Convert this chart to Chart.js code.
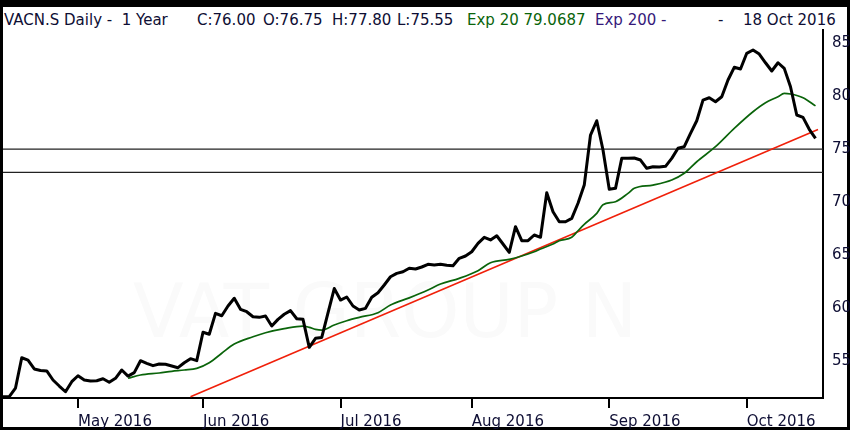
<!DOCTYPE html>
<html>
<head>
<meta charset="utf-8">
<script src="https://cdn.jsdelivr.net/npm/chart.js@4.4.1/dist/chart.umd.min.js"></script>
<style>
  html, body { margin: 0; padding: 0; background: #000; width: 850px; height: 430px; overflow: hidden; }
  #frame { position: absolute; left: 3px; top: 7px; width: 844px; height: 420px; background: #fff; }
  #chart { position: absolute; left: 0; top: 0; }
  .hd { position: absolute; top: 11px; font: 15px "DejaVu Sans", sans-serif; color: #0e0e34; white-space: pre; }
</style>
</head>
<body>
<div id="frame"></div>
<span class="hd" style="left:4px">VACN.S Daily -  1 Year</span>
<span class="hd" style="left:197px">C:76.00</span>
<span class="hd" style="left:263px">O:76.75</span>
<span class="hd" style="left:332px">H:77.80</span>
<span class="hd" style="left:397px">L:75.55</span>
<span class="hd" style="left:467px;color:#0a640a">Exp 20 79.0687</span>
<span class="hd" style="left:595px;color:#36197a">Exp 200 -</span>
<span class="hd" style="left:718px">-</span>
<span class="hd" style="left:743px">18 Oct 2016</span>
<canvas id="chart" width="850" height="430"></canvas>
<script>
// daily closes, one per trading day (index 0 = first day shown)
const closes = [
  51.63, 51.63, 52.45, 55.31, 55.09, 54.25, 54.10, 54.06, 53.21, 52.64,
  52.10, 53.05, 53.61, 53.21, 53.11, 53.14, 53.33, 52.99, 53.37, 54.15,
  53.58, 53.90, 55.03, 54.78, 54.56, 54.72, 54.69, 54.53, 54.37, 54.84,
  55.22, 55.03, 57.71, 57.52, 59.50, 59.27, 60.19, 60.92, 59.88, 59.65,
  59.18, 59.12, 59.25, 58.30, 58.93, 59.41, 59.75, 58.99, 58.93, 56.29,
  57.14, 57.22, 59.53, 61.84, 60.75, 61.04, 60.19, 59.81, 59.97, 61.01,
  61.44, 62.17, 62.95, 63.27, 63.42, 63.75, 63.68, 63.87, 64.12, 64.06,
  64.12, 64.03, 63.99, 64.69, 64.91, 65.31, 66.10, 66.67, 66.42, 66.82,
  66.04, 65.25, 67.67, 66.35, 66.35, 66.89, 66.67, 70.88, 69.08, 68.14,
  68.14, 68.46, 69.88, 71.60, 76.32, 77.67, 74.91, 71.20, 71.29, 74.12,
  74.12, 74.15, 73.96, 73.18, 73.33, 73.30, 73.37, 74.12, 75.07, 75.22,
  76.48, 77.67, 79.62, 79.84, 79.46, 79.93, 81.51, 82.71, 82.55, 84.03,
  84.34, 83.96, 83.14, 82.36, 83.14, 82.61, 80.88, 78.21, 77.99, 76.86,
  76.00
];

// Exp 20 line at these day indices
const emaIdx = [20, 22, 25, 27, 29, 31, 33, 35, 37, 40, 42, 45, 48, 49, 50, 51, 53, 55, 57, 60,
  62, 65, 68, 70, 73, 76, 78, 81, 83, 85, 86, 88, 89, 91, 92, 93, 95, 96, 98, 100,
  101, 104, 107, 109, 111, 114, 117, 120, 122, 124, 125, 126, 128, 130];
const emaVals = [53.37, 53.68, 53.87, 54.03, 54.15, 54.31, 54.84, 55.73, 56.60, 57.29,
  57.67, 58.05, 58.30, 58.18, 57.99, 57.92, 58.40, 58.80, 59.12, 59.56,
  60.28, 60.96, 61.70, 62.26, 62.80, 63.52, 64.27, 64.59, 64.91, 65.31,
  65.57, 66.04, 66.35, 66.67, 67.29, 67.90, 68.93, 69.75, 70.03, 70.82,
  71.29, 71.60, 72.08, 72.71, 73.80, 75.22, 76.95, 78.52, 79.37, 79.93,
  80.25, 80.19, 79.84, 79.07];

// red trend line end points
const trendIdx = [30, 130.4];
const trendVals = [51.63, 76.85];

// horizontal support lines
const levels = [75, 72.8];

// axes
const monthIdx = [12, 32, 54, 75, 97, 119];
const monthLabels = ['May 2016', 'Jun 2016', 'Jul 2016', 'Aug 2016', 'Sep 2016', 'Oct 2016'];
const yTicks = [55, 60, 65, 70, 75, 80, 85];

const X_MIN = 0, X_MAX = 131.2;
const Y_MIN = 51.51, Y_MAX = 86.23;
const TEXT = '#0e0e34';

const watermark = {
  id: 'watermark',
  beforeDatasetsDraw(chart) {
    const { ctx } = chart;
    ctx.save();
    ctx.font = '74px "DejaVu Sans", sans-serif';
    ctx.fillStyle = '#fafafa';
    ctx.textAlign = 'center';
    ctx.textBaseline = 'middle';
    ctx.fillText('VAT GROUP N', 385, 318);
    ctx.restore();
  }
};

const levelSets = levels.map(v => ({
  data: [{ x: X_MIN, y: v }, { x: X_MAX, y: v }],
  borderColor: '#222',
  borderWidth: 1.2,
  order: 4
}));

new Chart(document.getElementById('chart'), {
  type: 'line',
  data: {
    datasets: [
      {
        label: 'Close',
        data: closes.map((c, i) => ({ x: i, y: c })),
        borderColor: '#000',
        borderWidth: 3,
        borderJoinStyle: 'round',
        order: 0
      },
      {
        label: 'Exp 20',
        data: emaIdx.map((x, i) => ({ x: x, y: emaVals[i] })),
        borderColor: '#0a640a',
        borderWidth: 1.7,
        cubicInterpolationMode: 'monotone',
        order: 1
      },
      {
        label: 'Trend',
        data: trendIdx.map((x, i) => ({ x: x, y: trendVals[i] })),
        borderColor: '#f0200a',
        borderWidth: 1.6,
        order: 2
      },
      ...levelSets
    ]
  },
  options: {
    responsive: false,
    animation: false,
    layout: { padding: { top: 30, left: 3, right: 0, bottom: 0 } },
    elements: { point: { radius: 0 }, line: { tension: 0, fill: false } },
    plugins: { legend: { display: false }, tooltip: { enabled: false } },
    scales: {
      x: {
        type: 'linear',
        min: X_MIN,
        max: X_MAX,
        afterBuildTicks: s => { s.ticks = monthIdx.map(v => ({ value: v })); },
        afterFit: s => { s.height = 32; },
        ticks: {
          align: 'start',
          autoSkip: false,
          maxRotation: 0,
          padding: 5,
          color: TEXT,
          font: { family: 'DejaVu Sans', size: 15 },
          callback: v => monthLabels[monthIdx.indexOf(v)]
        },
        grid: { drawOnChartArea: false, drawTicks: true, tickLength: 10, color: '#000', lineWidth: 2 },
        border: { display: true, color: '#000', width: 2 }
      },
      y: {
        position: 'right',
        min: Y_MIN,
        max: Y_MAX,
        afterBuildTicks: s => { s.ticks = yTicks.map(v => ({ value: v })); },
        afterFit: s => { s.width = 27; },
        ticks: {
          padding: 9,
          color: TEXT,
          font: { family: 'DejaVu Sans', size: 15 }
        },
        grid: { drawOnChartArea: false, drawTicks: false },
        border: { display: true, color: '#000', width: 2 }
      }
    }
  },
  plugins: [watermark]
});
</script>
</body>
</html>
